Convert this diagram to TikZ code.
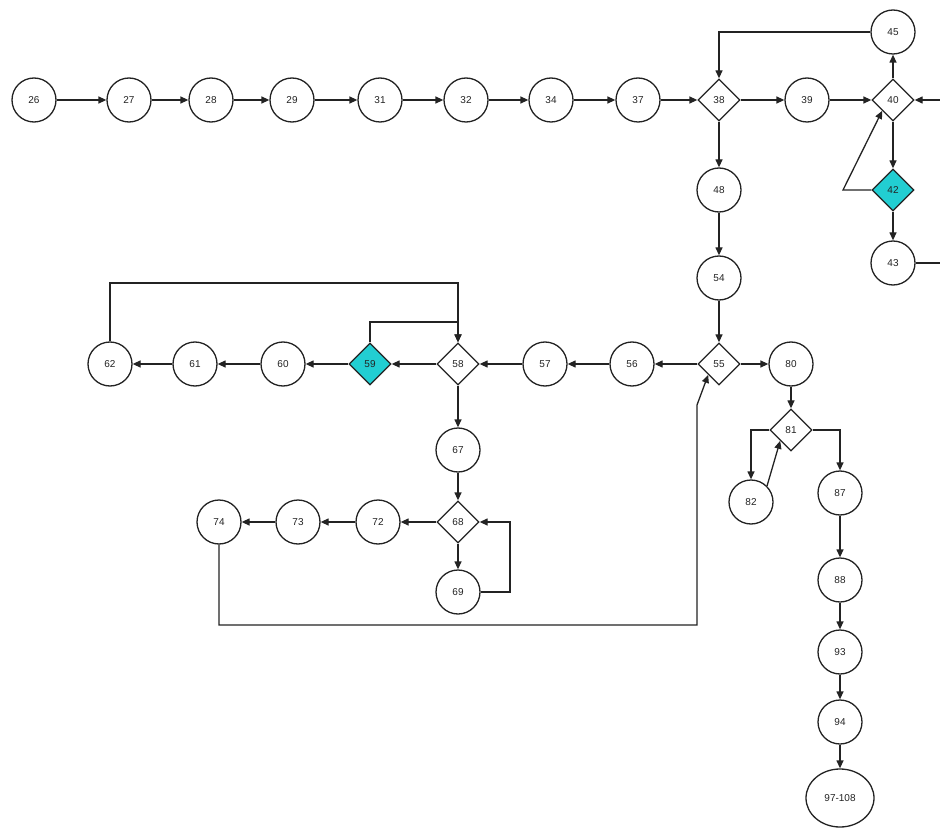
\documentclass[tikz,border=0pt]{standalone}
\usepackage{fontspec}
\setmainfont{Liberation Sans}
\usetikzlibrary{shapes.geometric,arrows.meta}
\definecolor{cyanfill}{RGB}{34,206,210}
\definecolor{linec}{RGB}{35,35,35}
\tikzset{
  every node/.style={font=\fontsize{10}{11}\selectfont, text=linec},
  circ/.style={circle, draw=linec, line width=1.3pt, fill=white, minimum size=44pt, inner sep=0pt},
  bigcirc/.style={ellipse, draw=linec, line width=1.3pt, fill=white, minimum width=68pt, minimum height=58pt, inner sep=0pt},
  dia/.style={diamond, draw=linec, line width=1.3pt, fill=white, minimum size=42pt, inner sep=0pt},
  diac/.style={dia, fill=cyanfill},
  arr/.style={draw=linec, line width=1.3pt, -{Triangle[length=8pt,width=7pt]}},
  ln/.style={draw=linec, line width=1.3pt}
}
\begin{document}
\begin{tikzpicture}[x=1pt,y=-1pt]
\useasboundingbox (0,0) rectangle (940,837);
% top row
\node[circ] (n26) at (34,100) {26};
\node[circ] (n27) at (129,100) {27};
\node[circ] (n28) at (211,100) {28};
\node[circ] (n29) at (292,100) {29};
\node[circ] (n31) at (380,100) {31};
\node[circ] (n32) at (466,100) {32};
\node[circ] (n34) at (551,100) {34};
\node[circ] (n37) at (638,100) {37};
\node[dia]  (n38) at (719,100) {38};
\node[circ] (n39) at (807,100) {39};
\node[dia]  (n40) at (893,100) {40};
\node[circ] (n45) at (893,32) {45};
\node[diac] (n42) at (893,190) {42};
\node[circ] (n43) at (893,263) {43};
\node[circ] (n48) at (719,190) {48};
\node[circ] (n54) at (719,278) {54};
% middle row
\node[dia]  (n55) at (719,364) {55};
\node[circ] (n56) at (632,364) {56};
\node[circ] (n57) at (545,364) {57};
\node[dia]  (n58) at (458,364) {58};
\node[diac] (n59) at (370,364) {59};
\node[circ] (n60) at (283,364) {60};
\node[circ] (n61) at (195,364) {61};
\node[circ] (n62) at (110,364) {62};
\node[circ] (n80) at (791,364) {80};
\node[dia]  (n81) at (791,430) {81};
\node[circ] (n82) at (751,502) {82};
\node[circ] (n87) at (840,493) {87};
% lower left
\node[circ] (n67) at (458,450) {67};
\node[dia]  (n68) at (458,522) {68};
\node[circ] (n72) at (378,522) {72};
\node[circ] (n73) at (298,522) {73};
\node[circ] (n74) at (219,522) {74};
\node[circ] (n69) at (458,592) {69};
% right column
\node[circ] (n88) at (840,580) {88};
\node[circ] (n93) at (840,652) {93};
\node[circ] (n94) at (840,722) {94};
\node[bigcirc] (n97) at (840,798) {97-108};
% helper coordinates
\coordinate (c45) at (719,32);
\coordinate (c42) at (843,190);
\coordinate (c43) at (940,263);
\coordinate (c40) at (940,100);
\coordinate (c62) at (458,283);
\coordinate (c59) at (458,322);
\coordinate (c69) at (510,522);
\coordinate (c74a) at (219,625);
\coordinate (c74b) at (697,625);
\coordinate (c74c) at (697,405);
% edges top row
\draw[arr] (n26) -- (n27);
\draw[arr] (n27) -- (n28);
\draw[arr] (n28) -- (n29);
\draw[arr] (n29) -- (n31);
\draw[arr] (n31) -- (n32);
\draw[arr] (n32) -- (n34);
\draw[arr] (n34) -- (n37);
\draw[arr] (n37) -- (n38);
\draw[arr] (n38) -- (n39);
\draw[arr] (n39) -- (n40);
\draw[arr] (n40) -- (n45);
\draw[arr] (n45.west) -- (c45) -- (n38.north);
\draw[arr] (n40) -- (n42);
\draw[arr] (n42) -- (n43);
\draw[arr] (n42.west) -- (c42) -- (n40.south west);
\draw[ln] (n43.east) -- (c43);
\draw[arr] (c40) -- (n40.east);
\draw[arr] (n38) -- (n48);
\draw[arr] (n48) -- (n54);
\draw[arr] (n54) -- (n55);
% middle row
\draw[arr] (n55) -- (n56);
\draw[arr] (n56) -- (n57);
\draw[arr] (n57) -- (n58);
\draw[arr] (n58) -- (n59);
\draw[arr] (n59) -- (n60);
\draw[arr] (n60) -- (n61);
\draw[arr] (n61) -- (n62);
\draw[arr] (n62.north) |- (c62) -- (n58.north);
\draw[arr] (n59.north) |- (c59) -- (n58.north);
\draw[arr] (n55) -- (n80);
\draw[arr] (n80) -- (n81);
\draw[arr] (n81.west) -| (n82.north);
\draw[arr] (n81.east) -| (n87.north);
\draw[arr] (n82.north east) -- (n81.south west);
% lower left
\draw[arr] (n58) -- (n67);
\draw[arr] (n67) -- (n68);
\draw[arr] (n68) -- (n72);
\draw[arr] (n72) -- (n73);
\draw[arr] (n73) -- (n74);
\draw[arr] (n68) -- (n69);
\draw[arr] (n69.east) -| (c69) -- (n68.east);
\draw[arr] (n74.south) -- (c74a) -- (c74b) -- (c74c) -- (n55.south west);
% right column
\draw[arr] (n87) -- (n88);
\draw[arr] (n88) -- (n93);
\draw[arr] (n93) -- (n94);
\draw[arr] (n94) -- (n97);
\end{tikzpicture}
\end{document}
